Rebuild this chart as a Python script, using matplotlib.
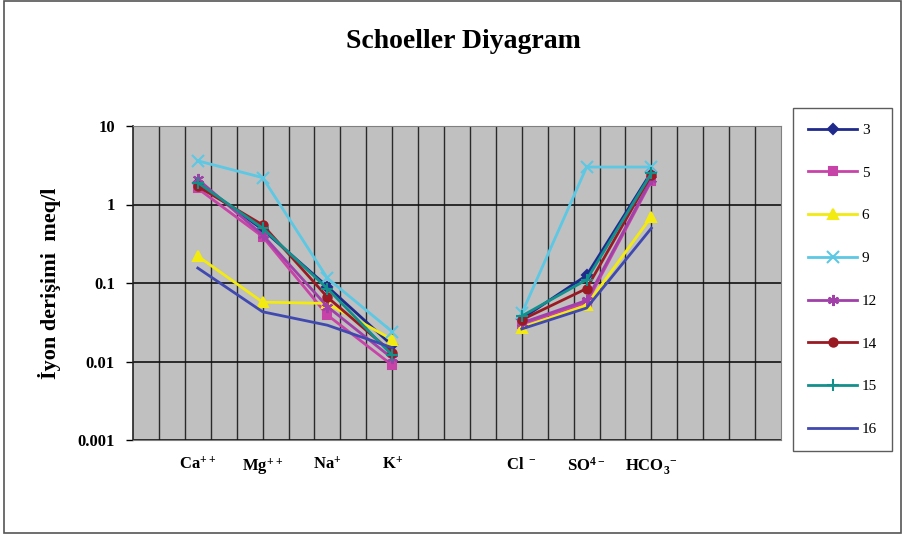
import numpy as np
import matplotlib
matplotlib.use('Agg')
import matplotlib.pyplot as plt
from matplotlib.patches import Rectangle

plt.rcParams['font.family'] = ['Liberation Serif', 'DejaVu Serif']
plt.rcParams['mathtext.fontset'] = 'custom'
plt.rcParams['mathtext.rm'] = 'Liberation Serif'
plt.rcParams['mathtext.bf'] = 'Liberation Serif:bold'

# ion positions on the category axis (gap between cations and anions)
ions = [r'$\mathbf{Ca^{++}}$', r'$\mathbf{Mg^{++}}$', r'$\mathbf{Na^{+}}$', r'$\mathbf{K^{+}}$',
        r'$\mathbf{Cl^{\ -}}$', r'$\mathbf{SO^{4-}}$', r'$\mathbf{HCO_3^{\ -}}$']
ion_x = [1, 2, 3, 4, 6, 7, 8]

# sample values (meq/l): Ca, Mg, Na, K | Cl, SO4, HCO3
s3 = [1.9, 0.48, 0.09, 0.016, 0.035, 0.125, 2.6]
s5 = [1.6, 0.39, 0.039, 0.009, 0.030, 0.056, 2.0]
s6 = [0.22, 0.057, 0.055, 0.019, 0.027, 0.052, 0.70]
s9 = [3.6, 2.2, 0.115, 0.024, 0.041, 3.0, 3.0]
s12 = [2.1, 0.41, 0.05, 0.011, 0.031, 0.06, 2.1]
s14 = [1.7, 0.55, 0.066, 0.013, 0.034, 0.085, 2.4]
s15 = [1.9, 0.50, 0.085, 0.012, 0.038, 0.11, 2.5]
s16 = [0.155, 0.043, 0.029, 0.015, 0.026, 0.048, 0.50]

series = [
    ('3', s3, '#1f2a8c', 'D', 5),
    ('5', s5, '#c843a8', 's', 6),
    ('6', s6, '#f2ea10', '^', 7),
    ('9', s9, '#5cc8e4', 'x', 8),
    ('12', s12, '#a040a8', (6, 2, 0), 8),
    ('14', s14, '#9a1a24', 'o', 6),
    ('15', s15, '#14908c', '+', 8),
    ('16', s16, '#4049b0', None, 0),
]

fig = plt.figure(figsize=(9.03, 5.37), dpi=100)
fig.patches.append(Rectangle((4 / 903, 4 / 537), 897 / 903, 532 / 537, transform=fig.transFigure,
                             fill=False, edgecolor='#555555', linewidth=1.2))

ax = fig.add_axes([133 / 903, 1 - 440 / 537, 648 / 903, 314 / 537])
ax.set_facecolor('#c0c0c0')

# vertical grid every 0.4 category units
for gx in np.arange(0.4, 10, 0.4):
    ax.axvline(gx, color='#2a2a2a', linewidth=1, zorder=0.5)

handles = []
for name, vals, col, mk, ms in series:
    h, = ax.plot(ion_x[:4], vals[:4], color=col, marker=mk, markersize=ms, linewidth=2,
                 markeredgewidth=1.5, label=name, zorder=3)
    ax.plot(ion_x[4:], vals[4:], color=col, marker=mk, markersize=ms, linewidth=2,
            markeredgewidth=1.5, zorder=3)
    handles.append(h)

ax.set_yscale('log')
ax.set_ylim(0.001, 10)
ax.set_xlim(0, 10)
ax.set_yticks([0.001, 0.01, 0.1, 1, 10])
ax.set_yticklabels(['0.001', '0.01', '0.1', '1', '10'], fontweight='bold', fontsize=12)
ax.yaxis.set_minor_locator(matplotlib.ticker.NullLocator())
ax.set_xticks(ion_x)
ax.set_xticklabels(ions, fontsize=12)
ax.tick_params(axis='x', which='both', length=0, pad=12)
ax.tick_params(axis='y', which='major', length=5, width=1, direction='out', pad=8)

ax.grid(which='major', axis='y', color='#111111', linewidth=1.2, zorder=1)
ax.set_axisbelow(True)

for s in ['top', 'right', 'bottom']:
    ax.spines[s].set_color('#808080')
ax.spines['left'].set_color('#222222')
ax.spines['left'].set_linewidth(1.2)

ax.set_ylabel('İyon derişimi  meq/l', fontsize=16, fontweight='bold', labelpad=12)
fig.text(463 / 903, 1 - 42 / 537, 'Schoeller Diyagram', ha='center', va='center',
         fontsize=20, fontweight='bold')

leg = fig.legend(handles=handles, loc='upper left', bbox_to_anchor=(793 / 903, 1 - 108 / 537),
                 fontsize=11, frameon=True, fancybox=False, edgecolor='#333333',
                 handlelength=3.2, labelspacing=1.9, borderpad=1.0, handletextpad=0.3,
                 borderaxespad=0)
leg.get_frame().set_linewidth(1)

plt.savefig('out.png', dpi=100)
